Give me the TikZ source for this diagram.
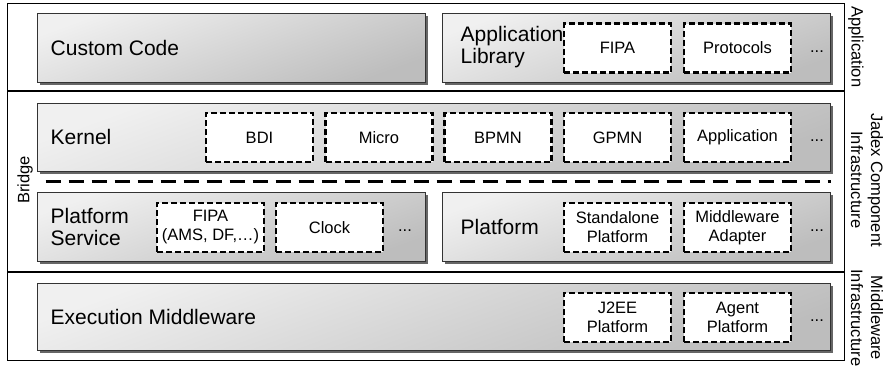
\documentclass[tikz,border=0pt]{standalone}
\usepackage{fontspec}
\setmainfont{Liberation Sans}
\usetikzlibrary{shadows,positioning}

\begin{document}
\begin{tikzpicture}[x=1pt,y=-1pt,
        layerbox/.style={draw=black!80,line width=1pt,top color=black!6,bottom color=black!26,shading angle=20,
            drop shadow={shadow xshift=3pt,shadow yshift=-3pt,fill=black!60,opacity=1},inner sep=0pt},
        partbox/.style={draw,fill=white,line width=2.2pt,dash pattern=on 6pt off 3pt,minimum width=107pt,
            minimum height=49pt,inner sep=0pt,align=center,font=\fontsize{16.5}{19}\selectfont},
        lbl/.style={anchor=west,inner sep=0pt,align=left,font=\fontsize{21}{22}\selectfont},
        more/.style={inner sep=0pt,font=\fontsize{16.5}{19}\selectfont},
        side/.style={rotate=-90,inner sep=0pt,align=center,font=\fontsize{16.5}{20}\selectfont}]
    \useasboundingbox (0,0) rectangle (889,367);
    % frame and layers
    \draw[line width=1pt] (7,3) rectangle (844,360);
    \draw[line width=1.6pt] (7,91) -- (844,91);
    \draw[line width=1.4pt] (7,272) -- (844,272);
    % application layer
    \node[layerbox,minimum width=388pt,minimum height=69pt] (custom) at (231,47.5) {};
    \node[layerbox,minimum width=388pt,minimum height=69pt] (applib) at (636,47.5) {};
    \node[lbl] (customlbl) at ([xshift=14pt]custom.west) {Custom Code};
    \node[lbl] (appliblbl) at ([xshift=19pt]applib.west) {Application\\Library};
    \node[partbox] (appfipa) at (617.5,48) {FIPA};
    \node[partbox] (protocols) at (737.5,48) {Protocols};
    \node[more] (appdots) at (817,52) {...};
    % kernel
    \node[layerbox,minimum width=793pt,minimum height=68pt] (kernel) at (433.5,137) {};
    \node[lbl] (kernellbl) at ([xshift=14pt]kernel.west) {Kernel};
    \node[partbox] (bdi) at (259.5,137.5) {BDI};
    \node[partbox] (micro) at (379,137.5) {Micro};
    \node[partbox] (bpmn) at (498,137.5) {BPMN};
    \node[partbox] (gpmn) at (617.5,137.5) {GPMN};
    \node[partbox] (kernelapp) at (737.5,137.5) {Application};
    \node[more] (kerneldots) at (817,141) {...};
    % bridge
    \draw[line width=3.5pt,dash pattern=on 15pt off 8pt] (kernel.south west) ++(9,10) coordinate (bridgestart)
        -- (kernel.south east |- bridgestart);
    \node[side,rotate=180] (bridge) at (25,180) {Bridge};
    % platform
    \node[layerbox,minimum width=388pt,minimum height=69pt] (platserv) at (231,226.5) {};
    \node[layerbox,minimum width=388pt,minimum height=69pt] (platform) at (636,226.5) {};
    \node[lbl] (platservlbl) at ([xshift=14pt]platserv.west) {Platform\\Service};
    \node[lbl] (platformlbl) at ([xshift=19pt]platform.west) {Platform};
    \node[partbox] (psfipa) at (210.5,227.5) {FIPA\\(AMS, DF,…)};
    \node[partbox] (clock) at (329.5,227.5) {Clock};
    \node[more] (psdots) at (405,231) {...};
    \node[partbox] (standalone) at (617.5,227.5) {Standalone\\Platform};
    \node[partbox] (mwadapter) at (737.5,227.5) {Middleware\\Adapter};
    \node[more] (platdots) at (817,231) {...};
    % middleware
    \node[layerbox,minimum width=793pt,minimum height=67pt] (execmw) at (433.5,316.5) {};
    \node[lbl] (execmwlbl) at ([xshift=14pt]execmw.west) {Execution Middleware};
    \node[partbox] (j2ee) at (617.5,317.5) {J2EE\\Platform};
    \node[partbox] (agentplat) at (737.5,317.5) {Agent\\Platform};
    \node[more] (mwdots) at (817,321) {...};
    % layer names
    \node[side] (applayer) at (856,47) {Application};
    \node[side] (jadexlayer) at (867,180) {Jadex Component\\Infrastructure};
    \node[side] (mwlayer) at (867,318) {Middleware\\Infrastructure};
\end{tikzpicture}
\end{document}
